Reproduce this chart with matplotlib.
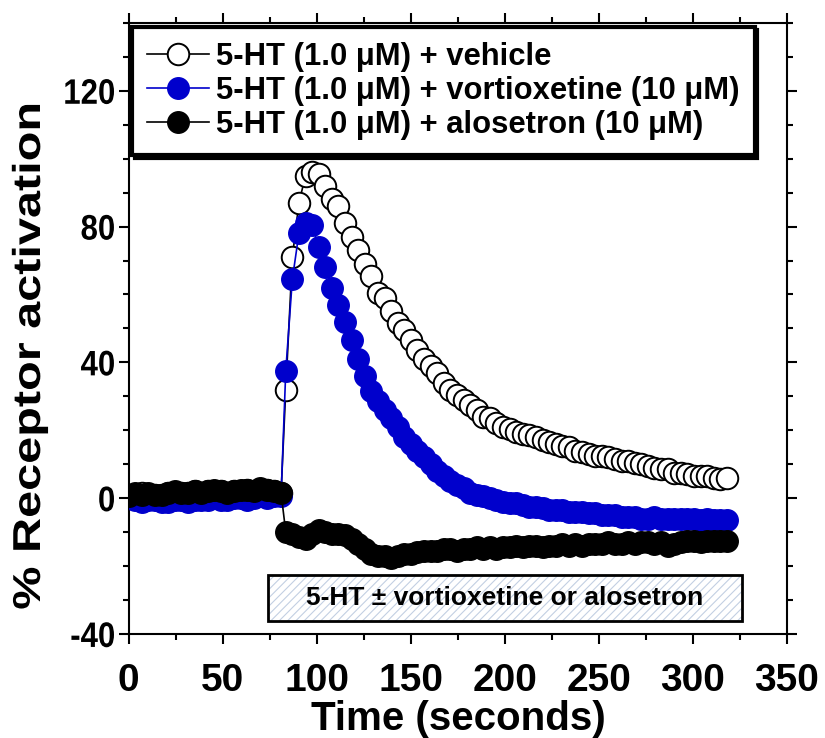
import matplotlib
matplotlib.use("Agg")
import matplotlib.pyplot as plt
from matplotlib.patches import Rectangle
from matplotlib.ticker import MultipleLocator
from matplotlib.patheffects import AbstractPathEffect
from matplotlib.transforms import Affine2D

plt.rcParams['font.family'] = ['Liberation Sans', 'DejaVu Sans']
plt.rcParams['font.weight'] = 'bold'
plt.rcParams['hatch.linewidth'] = 0.8
plt.rcParams['axes.unicode_minus'] = False


class Stretch(AbstractPathEffect):
    """Scale a text's outline about an anchor point of its own box."""

    def __init__(self, sx=1.0, sy=1.0, anchor=(0.5, 0.5)):
        super().__init__()
        self.sx, self.sy, self.anchor = sx, sy, anchor

    def draw_path(self, renderer, gc, tpath, affine, rgbFace=None):
        ext = tpath.get_extents(affine)
        cx = ext.x0 + self.anchor[0] * ext.width
        cy = ext.y0 + self.anchor[1] * ext.height
        t = affine + Affine2D().translate(-cx, -cy).scale(self.sx, self.sy).translate(cx, cy)
        renderer.draw_path(gc, tpath, t, rgbFace)


# Sampling times (s): before and after agonist addition
base_time = [0, 3.5, 7, 10.5, 14, 17.5, 21, 24.5, 28, 31.5, 35, 38.5,
             42, 45.5, 49, 52.5, 56, 59.5, 63, 66.5, 70, 73.5, 77, 81]
post_time = [83.5, 87, 90.5, 94, 97.5, 101, 104.5, 108, 111.5, 115, 118.5, 122,
             125.5, 129, 132.5, 136, 139.5, 143, 146.5, 150, 153.5, 157, 160.5, 164,
             167.5, 171, 174.5, 178, 181.5, 185, 188.5, 192, 195.5, 199, 202.5, 206,
             209.5, 213, 216.5, 220, 223.5, 227, 230.5, 234, 237.5, 241, 244.5, 248,
             251.5, 255, 258.5, 262, 265.5, 269, 272.5, 276, 279.5, 283, 286.5, 290,
             293.5, 297, 300.5, 304, 307.5, 311, 314.5, 318]

# % receptor activation, baseline segment
vehicle_base = [0, 1, 1.5, 1, 1, 1, 1.5, 1.5, 1.5, 1.5, 2, 1.5,
                2, 2, 2, 1.5, 2, 2, 2.5, 2, 2.5, 2.5, 2, 1.5]
vortiox_base = [0, -0.5, -1, -0.5, -0.5, -1, -1, -0.5, -0.5, -1, -0.5, -0.5,
                -0.5, 0, -0.5, -0.5, 0, 0, -0.5, 0, 0.5, 0, 0.5, 0.5]
alosetron_base = [0.5, 1.5, 1, 1.5, 1, 1, 1.5, 2, 1.5, 1.5, 2, 1.5,
                  2, 2.5, 2, 1.5, 2, 2.5, 2.5, 2, 3, 2.5, 2, 1.5]

# % receptor activation after 5-HT addition
vehicle_post = [32, 71, 87, 95, 96, 95.5, 92, 88, 86, 81, 77, 73,
                69, 65.5, 60.5, 59, 55, 51.5, 49.5, 46.5, 43.5, 41, 39, 37,
                34, 32, 30.5, 29, 27.5, 26, 24, 23.5, 22, 21, 20.5, 19.5,
                19, 18.5, 18, 17, 16.5, 16, 15.5, 15, 14, 13.5, 13, 12.5,
                12.5, 12, 11.5, 11, 11, 10.5, 10, 9.5, 9, 8.5, 8.5, 7.5,
                7.5, 7, 6.5, 6.5, 6.5, 6, 5.5, 6]
vortiox_post = [37.5, 64.5, 78, 81, 80.5, 74, 68, 62, 57, 52, 46.5, 41,
                36, 31.5, 28.5, 26, 23.5, 21, 18, 16, 14, 12, 10, 8,
                6.5, 5, 4, 3, 1.5, 1, 0.5, 0, -0.5, -1, -1.5, -1.5,
                -2, -2.5, -2.5, -3, -3.5, -3.5, -3.5, -4, -4, -4, -4.5, -4.5,
                -5, -5, -5, -5.5, -5.5, -5.5, -6, -6, -5.5, -6, -6, -6,
                -6, -6, -6, -6.5, -6, -6.5, -6.5, -6.5]
alosetron_post = [-10, -10.5, -11.5, -12, -10.5, -9.5, -10, -10.5, -10.5, -11, -12, -13.5,
                  -15, -16.5, -17, -17, -17.5, -17, -16.5, -16.5, -16, -15.5, -15.5, -15.5,
                  -15, -15, -15.5, -15, -15, -14.5, -15, -14.5, -15, -14.5, -14.5, -14,
                  -14.5, -14, -14, -14.5, -14, -14, -13.5, -14, -13.5, -14, -13.5, -13.5,
                  -13.5, -13, -13.5, -13.5, -13, -13.5, -13, -13, -13.5, -13, -14, -13.5,
                  -13, -12.5, -12.5, -13, -12.5, -12.5, -12.5, -12.5]

labels = ["5-HT (1.0 \u03bcM) + vehicle",
          "5-HT (1.0 \u03bcM) + vortioxetine (10 \u03bcM)",
          "5-HT (1.0 \u03bcM) + alosetron (10 \u03bcM)"]
blue = '#0000cc'

time = base_time + post_time
fig = plt.figure(figsize=(8.25, 7.38), dpi=100)
ax = fig.add_axes([0.156, 0.141, 0.798, 0.828])

ms = 15.5
ax.plot(time, vehicle_base + vehicle_post, '-o', color='black', lw=1.2,
        ms=ms, mfc='white', mec='black', mew=1.4, label=labels[0], zorder=3)
ax.plot(time, vortiox_base + vortiox_post, '-o', color=blue, lw=1.2,
        ms=ms, mfc=blue, mec=blue, mew=1.0, label=labels[1], zorder=4)
ax.plot(time, alosetron_base + alosetron_post, '-o', color='black', lw=1.2,
        ms=ms, mfc='black', mec='black', mew=1.0, label=labels[2], zorder=5)

ax.set_xlim(0, 350)
ax.set_ylim(-40, 140)
ax.xaxis.set_major_locator(MultipleLocator(50))
ax.xaxis.set_minor_locator(MultipleLocator(25))
ax.yaxis.set_major_locator(MultipleLocator(40))
ax.yaxis.set_minor_locator(MultipleLocator(10))
ax.tick_params(which='both', direction='out', width=1.5, top=True, right=True)
ax.tick_params(which='major', length=7)
ax.tick_params(which='minor', length=4)
ax.tick_params(axis='x', which='major', pad=14, labelsize=28)
ax.tick_params(axis='y', which='major', pad=2.5, labelsize=25.5)
for lab in ax.get_yticklabels():
    lab.set_path_effects([Stretch(sx=0.88, anchor=(1.0, 0.5))])
for s in ax.spines.values():
    s.set_linewidth(1.5)

ax.set_xlabel("Time (seconds)", fontsize=29, fontweight='bold', labelpad=1)
ylab = ax.set_ylabel("% Receptor activation", fontsize=28, fontweight='bold')
ylab.set_path_effects([Stretch(sy=1.25)])
ax.yaxis.set_label_coords(-0.1226, 0.455)

# Hatched bar marking the drug application period
x0, x1, y0, y1 = 74, 326, -36.3, -22.5
ax.add_patch(Rectangle((x0, y0), x1 - x0, y1 - y0, facecolor='white',
                       edgecolor='#c3cfe2', hatch='////', lw=0, zorder=2))
ax.add_patch(Rectangle((x0, y0), x1 - x0, y1 - y0, facecolor='none',
                       edgecolor='black', lw=2, zorder=2))
ax.text((x0 + x1) / 2, (y0 + y1) / 2, "5-HT \u00b1 vortioxetine or alosetron",
        ha='center', va='center', fontsize=19, fontweight='bold', zorder=3)

leg = ax.legend(loc='upper left', bbox_to_anchor=(0.005, 0.9935),
                borderaxespad=0, fontsize=22.3, frameon=True, fancybox=False,
                shadow={'color': 'black', 'alpha': 1}, handlelength=2.0,
                handletextpad=0.2, borderpad=0.5, labelspacing=0.12)
leg.get_frame().set_edgecolor('black')
leg.get_frame().set_linewidth(3)
leg.set_zorder(10)

fig.savefig('out.png', dpi=100)
